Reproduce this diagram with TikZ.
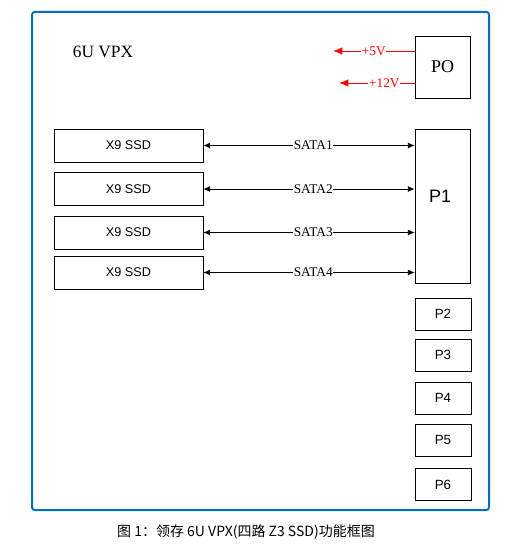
\documentclass[tikz,border=0pt]{standalone}
\usepackage{fontspec}
\setmainfont{Liberation Serif}
\setsansfont{Liberation Sans}
\newfontfamily\cjk{Noto Sans CJK SC}
\usetikzlibrary{arrows.meta}
\definecolor{frameblue}{RGB}{0,112,192}
\begin{document}
\begin{tikzpicture}[x=0.75pt,y=-0.75pt,
    ssd/.style={draw,line width=0.7pt,minimum width=111.75pt,minimum height=24.75pt,
      inner sep=0pt,font=\sffamily\fontsize{9.5}{10}\selectfont},
    port/.style={draw,line width=0.7pt,minimum width=42pt,minimum height=24pt,
      inner sep=0pt,font=\sffamily\fontsize{10}{11}\selectfont},
    sata/.style={{Latex[length=5pt,width=4.5pt]}-{Latex[length=5pt,width=4.5pt]},line width=0.6pt},
    pwr/.style={-{Latex[length=7pt,width=5.5pt]},red,line width=0.7pt},
    lbl/.style={fill=white,inner sep=0.5pt,font=\fontsize{10}{11}\selectfont}]
  \useasboundingbox (0,0) rectangle (509,545);
  \draw[frameblue,line width=1.5pt,rounded corners=2pt] (32,12) rectangle (489,510);
  \node[font=\fontsize{13}{14}\selectfont] (board) at (103,52) {6U VPX};
  \node[draw,line width=0.7pt,minimum width=41.25pt,minimum height=46.5pt,inner sep=0pt,
    font=\fontsize{13.5}{14}\selectfont] (P0) at (442.5,67) {PO};
  \node[draw,line width=0.7pt,minimum width=41.25pt,minimum height=115.5pt,inner sep=0pt] (P1) at (442.5,206) {};
  \node[font=\sffamily\fontsize{13.5}{14}\selectfont] (P1lbl) at (440,196) {P1};
  \node[ssd] (ssd1) at (128.5,145.5) {X9 SSD};
  \node[ssd] (ssd2) at (128.5,189) {X9 SSD};
  \node[ssd] (ssd3) at (128.5,232.5) {X9 SSD};
  \node[ssd] (ssd4) at (128.5,272.5) {X9 SSD};
  \node[port] (P2) at (443,314) {P2};
  \node[port] (P3) at (443,355) {P3};
  \node[port] (P4) at (443,398) {P4};
  \node[port] (P5) at (443,440) {P5};
  \node[port] (P6) at (443,484.5) {P6};
  \coordinate (v5) at (333,51);
  \coordinate (v12) at (339,83);
  \begin{scope}[pwr]
    \draw (P0.west |- v5) -- (v5) node[lbl,text=red,midway] {+5V};
    \draw (P0.west |- v12) -- (v12) node[lbl,text=red,pos=0.4] {+12V};
  \end{scope}
  \begin{scope}[sata]
    \draw (ssd1.east) -- (P1.west |- ssd1.east) node[lbl,pos=0.52] {SATA1};
    \draw (ssd2.east) -- (P1.west |- ssd2.east) node[lbl,pos=0.52] {SATA2};
    \draw (ssd3.east) -- (P1.west |- ssd3.east) node[lbl,pos=0.52] {SATA3};
    \draw (ssd4.east) -- (P1.west |- ssd4.east) node[lbl,pos=0.52] {SATA4};
  \end{scope}
  \node[font=\cjk\fontsize{10.5}{12}\selectfont] (caption) at (246,532) {图 1：领存 6U VPX(四路 Z3 SSD)功能框图};
\end{tikzpicture}
\end{document}
